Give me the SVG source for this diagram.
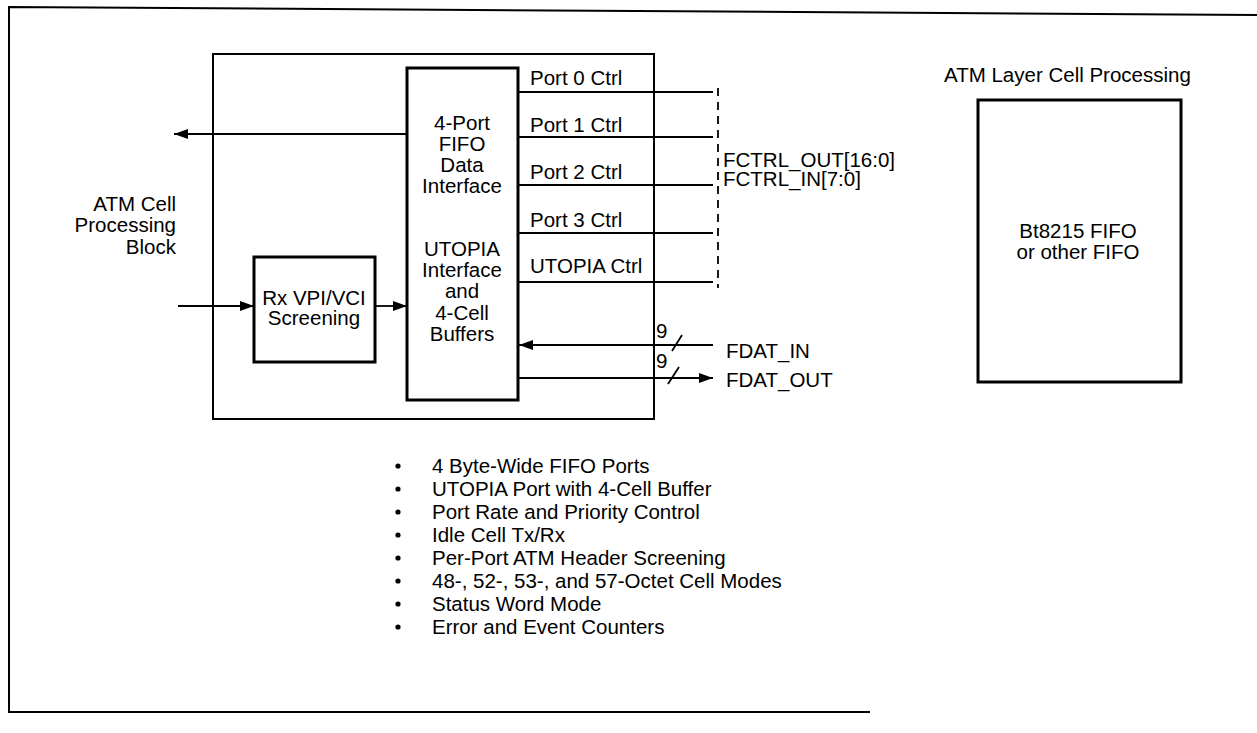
<svg xmlns="http://www.w3.org/2000/svg" width="1257" height="733" viewBox="0 0 1257 733">
<style>
text{font-family:"Liberation Sans",Arial,sans-serif;font-size:20.5px;fill:#000}
.c{text-anchor:middle}
.r{text-anchor:end}
.box{fill:none;stroke:#000;stroke-width:3}
.thin{fill:none;stroke:#000;stroke-width:2}
.ln{fill:none;stroke:#000;stroke-width:1.8}
.dash{fill:none;stroke:#000;stroke-width:1.8;stroke-dasharray:8 6}
</style>
<defs>
<marker id="ah" viewBox="0 0 14 10" refX="14" refY="5" markerWidth="14" markerHeight="10" markerUnits="userSpaceOnUse" orient="auto">
<path d="M0,0 L14,5 L0,10 Z" fill="#000"/>
</marker>
</defs>
<rect width="1257" height="733" fill="#fff"/>
<g id="frame">
<path class="thin" d="M1257,15 L9,7 L9,712 L870,712"/>
</g>
<g id="main-block">
<rect class="thin" x="213" y="54" width="441" height="365"/>
</g>
<g id="atm-cell-label">
<text class="r" x="176" y="211">ATM Cell</text>
<text class="r" x="176" y="232">Processing</text>
<text class="r" x="176" y="254">Block</text>
</g>
<g id="fifo-utopia">
<rect class="box" x="407" y="68" width="111" height="332"/>
<text class="c" x="462" y="130">4-Port</text>
<text class="c" x="462" y="151">FIFO</text>
<text class="c" x="462" y="172">Data</text>
<text class="c" x="462" y="193">Interface</text>
<text class="c" x="462" y="256">UTOPIA</text>
<text class="c" x="462" y="277">Interface</text>
<text class="c" x="462" y="298">and</text>
<text class="c" x="462" y="320">4-Cell</text>
<text class="c" x="462" y="341">Buffers</text>
</g>
<g id="rx-screening">
<rect class="box" x="254" y="257" width="121" height="105"/>
<text class="c" x="314" y="305">Rx VPI/VCI</text>
<text class="c" x="314" y="325">Screening</text>
</g>
<g id="port-labels">
<text x="530" y="85">Port 0 Ctrl</text>
<text x="530" y="132">Port 1 Ctrl</text>
<text x="530" y="179">Port 2 Ctrl</text>
<text x="530" y="227">Port 3 Ctrl</text>
<text x="530" y="273">UTOPIA Ctrl</text>
</g>
<g id="fctrl-label">
<text x="723" y="167">FCTRL_OUT[16:0]</text>
<text x="723" y="186">FCTRL_IN[7:0]</text>
</g>
<g id="fdat-labels">
<text x="726" y="358">FDAT_IN</text>
<text x="726" y="387">FDAT_OUT</text>
<text x="656" y="338">9</text>
<text x="656" y="368">9</text>
</g>
<g id="atm-layer">
<text x="944" y="82">ATM Layer Cell Processing</text>
<rect class="box" x="978" y="100" width="203" height="282"/>
<text class="c" x="1078" y="238">Bt8215 FIFO</text>
<text class="c" x="1078" y="259">or other FIFO</text>
</g>
<g id="features">
<circle cx="398" cy="466" r="2.6"/>
<circle cx="398" cy="489" r="2.6"/>
<circle cx="398" cy="512" r="2.6"/>
<circle cx="398" cy="535" r="2.6"/>
<circle cx="398" cy="558" r="2.6"/>
<circle cx="398" cy="581" r="2.6"/>
<circle cx="398" cy="604" r="2.6"/>
<circle cx="398" cy="627" r="2.6"/>
<text x="432" y="473">4 Byte-Wide FIFO Ports</text>
<text x="432" y="496">UTOPIA Port with 4-Cell Buffer</text>
<text x="432" y="519">Port Rate and Priority Control</text>
<text x="432" y="542">Idle Cell Tx/Rx</text>
<text x="432" y="565">Per-Port ATM Header Screening</text>
<text x="432" y="588">48-, 52-, 53-, and 57-Octet Cell Modes</text>
<text x="432" y="611">Status Word Mode</text>
<text x="432" y="634">Error and Event Counters</text>
</g>
<g id="connectors">
<line class="ln" x1="407" y1="134" x2="174" y2="134" marker-end="url(#ah)"/>
<line class="ln" x1="178" y1="306" x2="254" y2="306" marker-end="url(#ah)"/>
<line class="ln" x1="375" y1="306" x2="407" y2="306" marker-end="url(#ah)"/>
<line class="ln" x1="518" y1="92" x2="713" y2="92"/>
<line class="ln" x1="518" y1="137" x2="713" y2="137"/>
<line class="ln" x1="518" y1="185" x2="713" y2="185"/>
<line class="ln" x1="518" y1="233" x2="713" y2="233"/>
<line class="ln" x1="518" y1="282" x2="713" y2="282"/>
<line class="dash" x1="718" y1="88" x2="718" y2="288"/>
<line class="ln" x1="713" y1="345" x2="519" y2="345" marker-end="url(#ah)"/>
<line class="ln" x1="518" y1="378" x2="713" y2="378" marker-end="url(#ah)"/>
<line class="ln" x1="672" y1="351" x2="682" y2="335"/>
<line class="ln" x1="668" y1="384" x2="679" y2="367"/>
</g>
</svg>
